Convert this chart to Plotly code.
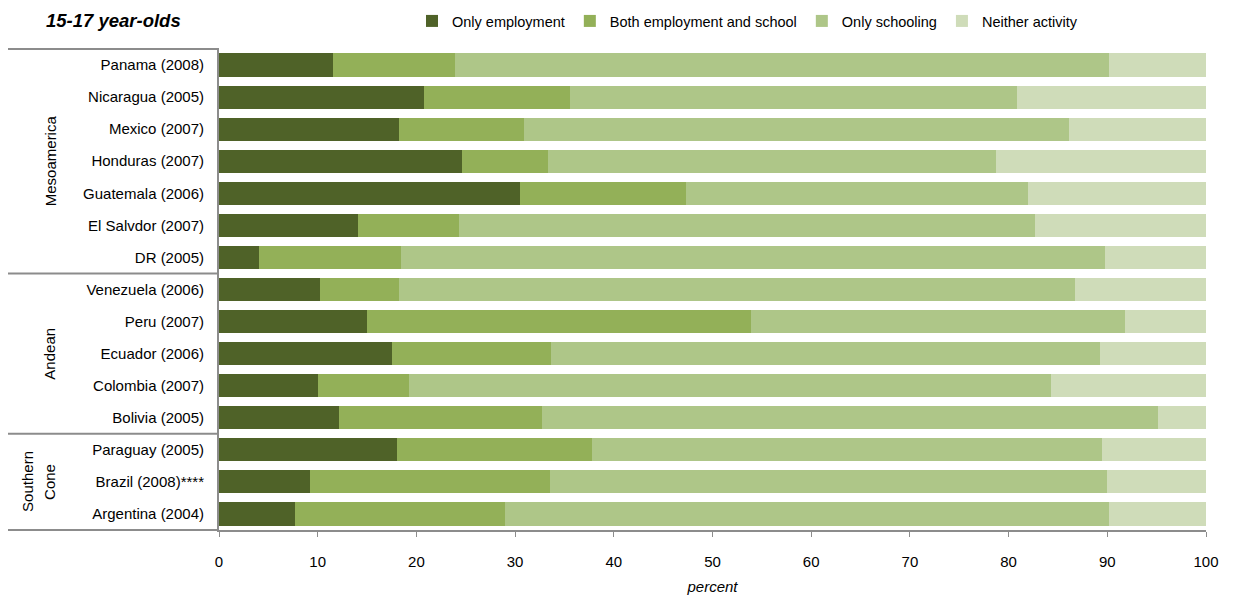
import plotly.graph_objects as go

countries = ["Panama (2008)", "Nicaragua (2005)", "Mexico (2007)", "Honduras (2007)",
             "Guatemala (2006)", "El Salvdor (2007)", "DR (2005)", "Venezuela (2006)",
             "Peru (2007)", "Ecuador (2006)", "Colombia (2007)", "Bolivia (2005)",
             "Paraguay (2005)", "Brazil (2008)****", "Argentina (2004)"]

only_employment = [11.6, 20.8, 18.2, 24.6, 30.5, 14.1, 4.1, 10.2, 15.0, 17.5, 10.0, 12.2, 18.0, 9.2, 7.7]
both_emp_school = [12.3, 14.8, 12.7, 8.7, 16.8, 10.2, 14.3, 8.0, 38.9, 16.1, 9.3, 20.5, 19.8, 24.3, 21.3]
only_schooling = [66.3, 45.3, 55.2, 45.4, 34.7, 58.4, 71.4, 68.5, 37.9, 55.7, 65.0, 62.4, 51.7, 56.5, 61.2]
neither = [9.8, 19.1, 13.9, 21.3, 18.0, 17.3, 10.2, 13.3, 8.2, 10.7, 15.7, 4.9, 10.5, 10.0, 9.8]

series_names = ["Only employment", "Both employment and school", "Only schooling", "Neither activity"]
colors = ["#4F6228", "#93B058", "#AEC688", "#CFDCB9"]

group_names = ["Mesoamerica", "Andean", "Southern", "Cone"]

FONT = "Liberation Sans, Arial, sans-serif"

fig = go.Figure()
for name, vals, col in zip(series_names, [only_employment, both_emp_school, only_schooling, neither], colors):
    fig.add_trace(go.Bar(
        y=countries, x=vals, name=name, orientation="h",
        marker=dict(color=col, line=dict(width=0)),
    ))

# page offset of 8px (body margin) is compensated
OFF = 8
W, H = 1235 - OFF, 600 - OFF
PL, PR, PT, PB = 219, 1206, 49, 530  # plot area in page pixels
L, T = PL - OFF, PT - OFF
R = W - (PR - OFF)
B = H - (PB - OFF)
pw = PR - PL
ph = PB - PT

def px_x(px):
    return (px - PL) / pw

def px_y(py):
    return (PB - py) / ph

fig.update_layout(
    width=W, height=H,
    margin=dict(l=L, r=R, t=T, b=B, pad=0, autoexpand=False),
    barmode="stack", bargap=0.28,
    plot_bgcolor="white", paper_bgcolor="white",
    font=dict(family=FONT, size=15, color="#000000"),
    legend=dict(orientation="h", x=px_x(412), xanchor="left", y=px_y(5), yanchor="top",
                font=dict(family=FONT, size=14.5), traceorder="normal",
                itemwidth=30, bgcolor="rgba(0,0,0,0)"),
    xaxis=dict(range=[0, 100], dtick=10, showgrid=False, zeroline=False,
               showline=True, linecolor="#8C8C8C", linewidth=2,
               ticks="outside", ticklen=5, tickcolor="#8C8C8C", tickwidth=1,
               ticklabelstandoff=12,
               tickfont=dict(family=FONT, size=15),
               title=dict(text="<i>percent</i>", font=dict(family=FONT, size=15), standoff=12)),
    yaxis=dict(autorange="reversed", showgrid=False, zeroline=False,
               showline=True, linecolor="#8C8C8C", linewidth=2,
               ticks="", ticklabelstandoff=10,
               tickfont=dict(family=FONT, size=15)),
)

# Group frame lines on the left
line_style = dict(color="#8C8C8C", width=2)
for yp in [1.0, 8 / 15, 3 / 15, 0.0]:
    fig.add_shape(type="line", xref="paper", yref="paper",
                  x0=px_x(8), x1=0, y0=yp, y1=yp, line=line_style)

# Group labels
gfont = dict(family=FONT, size=15)
group_pos = [(50, (1 + 8 / 15) / 2), (50, (8 / 15 + 3 / 15) / 2), (28, 3 / 15 / 2), (50, 3 / 15 / 2)]
for txt, (gx, gy) in zip(group_names, group_pos):
    fig.add_annotation(text=txt, xref="paper", yref="paper", x=px_x(gx), y=gy,
                       xanchor="center", yanchor="middle",
                       textangle=-90, showarrow=False, font=gfont)

# Title
fig.add_annotation(text="<b><i>15-17 year-olds</i></b>", xref="paper", yref="paper",
                   x=px_x(44), y=px_y(20), xanchor="left", yanchor="middle",
                   showarrow=False, font=dict(family=FONT, size=18.5))

fig.write_html("out.html")
